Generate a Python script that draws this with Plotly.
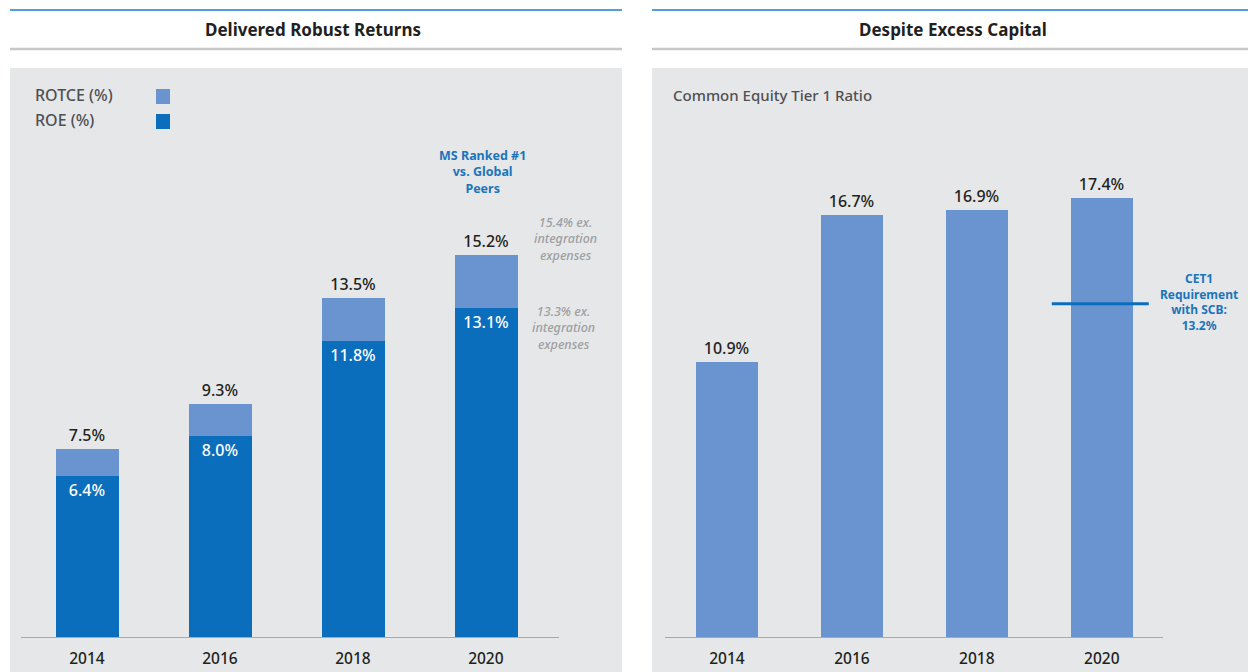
import plotly.graph_objects as go

years = ["2014", "2016", "2018", "2020"]
rotce = [7.5, 9.3, 13.5, 15.2]
roe = [6.4, 8.0, 11.8, 13.1]
cet1 = [10.9, 16.7, 16.9, 17.4]
cet1_req = 13.2

W, H = 1248, 672
DARK = "#0a6ebd"
LIGHT = "#6994cf"
PANEL = "#e6e7e9"
TXT = "#231f20"
GRAY_T = "#4f5052"
FONT = "Noto Sans"


def px(x):
    return x / W


def py(y):
    return 1 - y / H


LBL = dict(family=FONT, size=16, color=TXT, weight=500)

fig = go.Figure()

# Left panel: stacked ROE + (ROTCE - ROE)
fig.add_trace(go.Bar(x=years, y=roe, marker_color=DARK, width=0.474, marker_line_width=0,
                     text=[f"{v:.1f}%" for v in roe], textposition="inside",
                     insidetextanchor="end", textangle=0,
                     textfont=dict(family=FONT, size=16, color="white", weight=500),
                     xaxis="x", yaxis="y", name="ROE (%)", showlegend=False))
fig.add_trace(go.Bar(x=years, y=[a - b for a, b in zip(rotce, roe)], base=roe,
                     marker_color=LIGHT, width=0.474, marker_line_width=0,
                     text=[f"{v:.1f}%" for v in rotce], textposition="outside",
                     textangle=0, textfont=LBL, cliponaxis=False,
                     xaxis="x", yaxis="y", name="ROTCE (%)", showlegend=False))
# Right panel
fig.add_trace(go.Bar(x=years, y=cet1, marker_color=LIGHT, width=0.496, marker_line_width=0,
                     text=[f"{v:.1f}%" for v in cet1], textposition="outside",
                     textangle=0, textfont=LBL, cliponaxis=False,
                     xaxis="x2", yaxis="y2", showlegend=False))
# CET1 requirement line across the 2020 bar
fig.add_trace(go.Scatter(x=[3 - 0.4, 3 + 0.376], y=[cet1_req, cet1_req], mode="lines",
                         line=dict(color=DARK, width=3), xaxis="x3", yaxis="y2",
                         showlegend=False, hoverinfo="skip"))

base_y = 637
sc_l = 25.1
sc_r = 25.25
ydom = [py(base_y), 1]

XAX = dict(type="category", showline=True, linecolor="#a7a9ac", linewidth=1,
           ticks="outside", ticklen=7, tickcolor="rgba(0,0,0,0)",
           showgrid=False, zeroline=False, fixedrange=True,
           tickfont=dict(size=15.5, color=TXT, family=FONT, weight=500))

fig.update_layout(
    width=W, height=H, margin=dict(l=0, r=0, t=0, b=0),
    paper_bgcolor="white", plot_bgcolor="rgba(0,0,0,0)",
    barmode="overlay", bargap=0,
    font=dict(family=FONT, color=TXT),
    xaxis=dict(domain=[px(20.5), px(559)], range=[-0.5, 3.55], **XAX),
    yaxis=dict(domain=ydom, range=[0, base_y / sc_l], visible=False, fixedrange=True),
    xaxis2=dict(domain=[px(664.5), px(1163)], range=[-0.5, 3.49], **XAX),
    yaxis2=dict(domain=ydom, range=[0, base_y / sc_r], visible=False,
                fixedrange=True, anchor="x2"),
    xaxis3=dict(domain=[px(664.5), px(1163)], range=[-0.5, 3.49], visible=False,
                overlaying="x2", fixedrange=True),
)

shapes = []
for x0, x1 in [(10, 622), (652, 1248)]:
    shapes.append(dict(type="rect", xref="paper", yref="paper", x0=px(x0), x1=px(x1),
                       y0=0, y1=py(68), fillcolor=PANEL, line=dict(width=0), layer="below"))
    shapes.append(dict(type="line", xref="paper", yref="paper", x0=px(x0), x1=px(x1),
                       y0=py(10), y1=py(10), line=dict(color="#1a7fd0", width=1.5)))
    shapes.append(dict(type="line", xref="paper", yref="paper", x0=px(x0), x1=px(x1),
                       y0=py(49), y1=py(49), line=dict(color="#c7c8ca", width=2.5)))
# legend squares
for yc, col in [(96.5, LIGHT), (121.5, DARK)]:
    shapes.append(dict(type="rect", xref="paper", yref="paper", x0=px(156), x1=px(170),
                       y0=py(yc + 7.5), y1=py(yc - 7.5), fillcolor=col, line=dict(width=0)))
fig.update_layout(shapes=shapes)


def note(text, x, y, size, color, xanchor="center", weight=None):
    f = dict(size=size, color=color, family=FONT)
    if weight:
        f["weight"] = weight
    return dict(text=text, x=px(x), y=py(y), xref="paper", yref="paper",
                xanchor=xanchor, yanchor="middle", showarrow=False, font=f,
                align="center")


ann = [
    note("<b>Delivered Robust Returns</b>", 313, 30, 17, TXT),
    note("<b>Despite Excess Capital</b>", 953, 30, 17, TXT),
    note("ROTCE (%)", 33, 95, 16, GRAY_T, "left", 500),
    note("ROE (%)", 33, 120, 16, GRAY_T, "left", 500),
    note("Common Equity Tier 1 Ratio", 671, 95, 15, GRAY_T, "left", 500),
    note("<b>MS Ranked #1<br>vs. Global<br>Peers</b>", 482, 172, 12.5, "#1b75bc"),
    note("<i>15.4% ex.<br>integration<br>expenses</i>", 565, 239, 12.5, "#9d9fa2", weight=500),
    note("<i>13.3% ex.<br>integration<br>expenses</i>", 563, 327.5, 12.5, "#9d9fa2", weight=500),
    note(f"<b>CET1<br>Requirement<br>with SCB:<br>{cet1_req:.1f}%</b>", 1199, 302, 12,
         "#1b75bc"),
]
fig.update_layout(annotations=ann)

fig.write_html("out.html", config={"displayModeBar": False},
               post_script="document.body.style.margin='0';document.body.style.overflow='hidden';")
